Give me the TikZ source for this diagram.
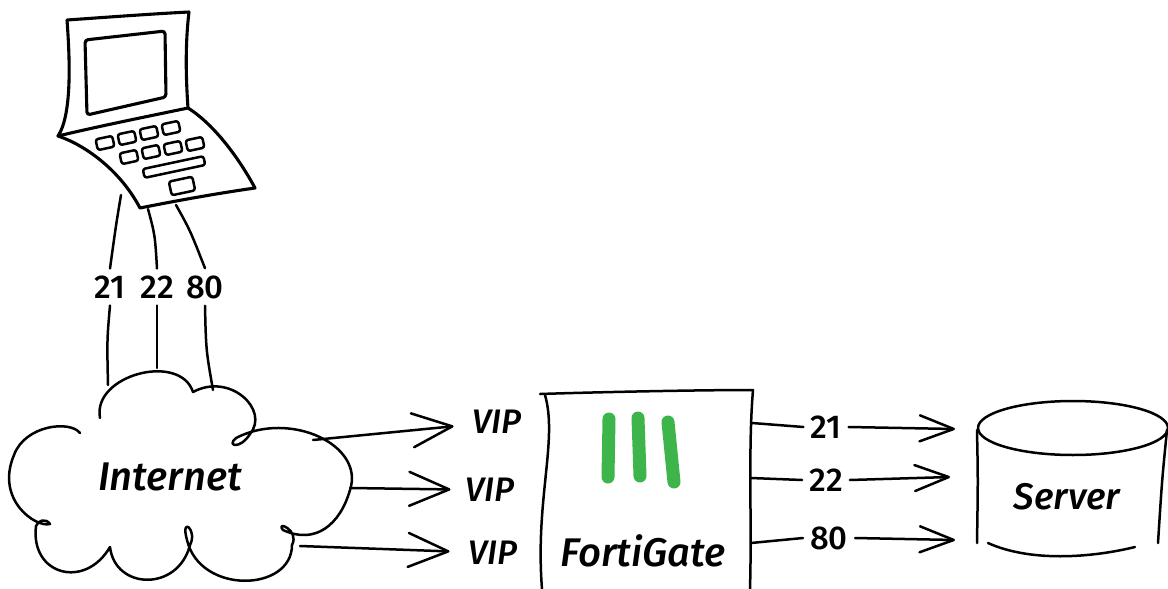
\documentclass[tikz,border=0pt]{standalone}
\usepackage{fontspec}
\setmainfont{Fira Sans}[BoldFont={Fira Sans Medium}, BoldItalicFont={Fira Sans Medium Italic}]
\usetikzlibrary{arrows.meta}
\definecolor{fgreen}{HTML}{3DB54A}
\tikzset{
  ink/.style={line width=2.5pt, line cap=round, line join=round},
  heavyink/.style={line width=3.1pt, line cap=round, line join=round},
  keyink/.style={line width=2.5pt, line cap=round, line join=round, rounded corners=2.5pt},
  port/.style={font=\fontsize{33}{33}\selectfont\bfseries, inner sep=7pt},
  word/.style={font=\fontsize{#1}{#1}\selectfont\bfseries\itshape, inner sep=3pt},
  word/.default=34,
  bigtip/.style={-{Straight Barb[length=40pt,width=34pt,round]}},
  smalltip/.style={-{Straight Barb[length=34pt,width=26pt,round]}},
  bar/.style={line width=13pt, line cap=round, color=fgreen},
}
\begin{document}
\begin{tikzpicture}[x=1pt,y=-1pt]
\useasboundingbox (0,0) rectangle (1168,589);
\fill[white] (0,0) rectangle (1168,589);

% ---- laptop ----
% screen lid
\draw[heavyink] (67,20) .. controls (110,17) and (150,14) .. (189,12)
  .. controls (185,45) and (186,80) .. (188,108)
  .. controls (140,118) and (100,126) .. (58,136)
  .. controls (72,115) and (70,60) .. (67,20);
% display panel
\draw[heavyink, rounded corners=3pt] (85,40) -- (165,31) -- (166,97) -- (87,115) -- cycle;
% keyboard base
\draw[heavyink] (58,136) .. controls (85,145) and (120,170) .. (140,208)
  .. controls (180,200) and (220,193) .. (255,188)
  .. controls (240,160) and (215,125) .. (188,108);
% keys
\foreach \kx/\ky in {105/143,127/138,149/133,171/128,129/157,151/152,173/148,195/144}
  \draw[keyink, shift={(\kx,\ky)}, rotate=12] (-8.5,-5.5) rectangle (8.5,5.5);
\draw[keyink, shift={(174,167)}, rotate=12] (-31,-4.5) rectangle (31,4.5);
\draw[keyink, shift={(182,186)}, rotate=12] (-12,-7) rectangle (12,7);
\coordinate (lapA) at (121,195);
\coordinate (lapB) at (148,209);
\coordinate (lapC) at (176,205);

% ---- port labels on the laptop wires ----
\node[port] (p21) at (110,287) {21};
\node[port] (p22) at (157,287) {22};
\node[port] (p80) at (205,287) {80};

% ---- cloud ----
\draw[ink] (100,418) .. controls (92,375) and (180,352) .. (193,392)
  .. controls (230,372) and (270,410) .. (250,434)
  .. controls (240,450) and (226,446) .. (236,438)
  .. controls (290,410) and (365,445) .. (350,490)
  .. controls (340,525) and (315,545) .. (283,530)
  .. controls (275,520) and (300,530) .. (292,545)
  .. controls (292,592) and (200,595) .. (187,540)
  .. controls (180,515) and (198,530) .. (190,545)
  .. controls (178,592) and (115,590) .. (110,547)
  .. controls (85,590) and (30,575) .. (36,526)
  .. controls (38,520) and (46,518) .. (50,524)
  .. controls (36,528) and (-5,500) .. (14,455)
  .. controls (25,425) and (70,420) .. (80,433);
\node[word=40] (inet) at (170,477) {Internet};
\coordinate (cA) at (108,385);
\coordinate (cB) at (157,368);
\coordinate (cC) at (213,390);
\coordinate (c1) at (313,440);
\coordinate (c2) at (350,488);
\coordinate (c3) at (300,546);

% wires laptop -> cloud
\draw[ink] (lapA) .. controls (116,225) .. (p21.north);
\draw[ink] (p21.south) .. controls (107,340) .. (cA);
\draw[ink] (lapB) .. controls (155,235) .. (p22.north);
\draw[ink] (p22.south) -- (cB);
\draw[ink] (lapC) .. controls (190,230) .. (p80.north);
\draw[ink] (p80.south) .. controls (206,350) .. (cC);

% ---- VIPs ----
\node[word] (vip1) at (497,422) {VIP};
\node[word] (vip2) at (490,490) {VIP};
\node[word] (vip3) at (493,553) {VIP};
\draw[ink, bigtip, shorten >=16pt] (c1) -- (vip1);
\draw[ink, bigtip, shorten >=12pt] (c2) -- (vip2);
\draw[ink, bigtip, shorten >=16pt] (c3) -- (vip3);

% ---- FortiGate ----
\draw[ink] (540,394) .. controls (600,392) and (700,390) .. (753,390)
  .. controls (748,450) and (752,520) .. (750,589);
\draw[ink] (545,395) .. controls (558,440) and (535,500) .. (542,589);
\draw[bar] (609,419) -- (608,477);
\draw[bar] (638,418) -- (640,476);
\draw[bar] (668,422) -- (674,482);
\node[word=40] (fg) at (643,551) {FortiGate};
\coordinate (fg1) at (752,423);
\coordinate (fg2) at (751,478);
\coordinate (fg3) at (751,543);

% ---- ports to the server ----
\node[port] (s21) at (826,427) {21};
\node[port] (s22) at (826,480) {22};
\node[port] (s80) at (829,538) {80};
\draw[ink] (fg1) -- (s21.west);
\draw[ink] (fg2) -- (s22.west);
\draw[ink] (fg3) -- (s80.west);
\coordinate (t21) at (955,429);
\coordinate (t22) at (950,477);
\coordinate (t80) at (955,540);
\draw[ink, smalltip] (s21.east) -- (t21);
\draw[ink, smalltip] (s22.east) -- (t22);
\draw[ink, smalltip] (s80.east) -- (t80);

% ---- server ----
\draw[ink] (1073,428) ellipse [x radius=95, y radius=27];
\draw[ink] (977,430) .. controls (978,480) .. (977,543);
\draw[ink] (1167,430) .. controls (1162,480) .. (1158,543);
\draw[ink] (988,543) .. controls (1030,562) and (1090,558) .. (1135,547);
\node[word=37] (srv) at (1067,497) {Server};
\end{tikzpicture}
\end{document}
